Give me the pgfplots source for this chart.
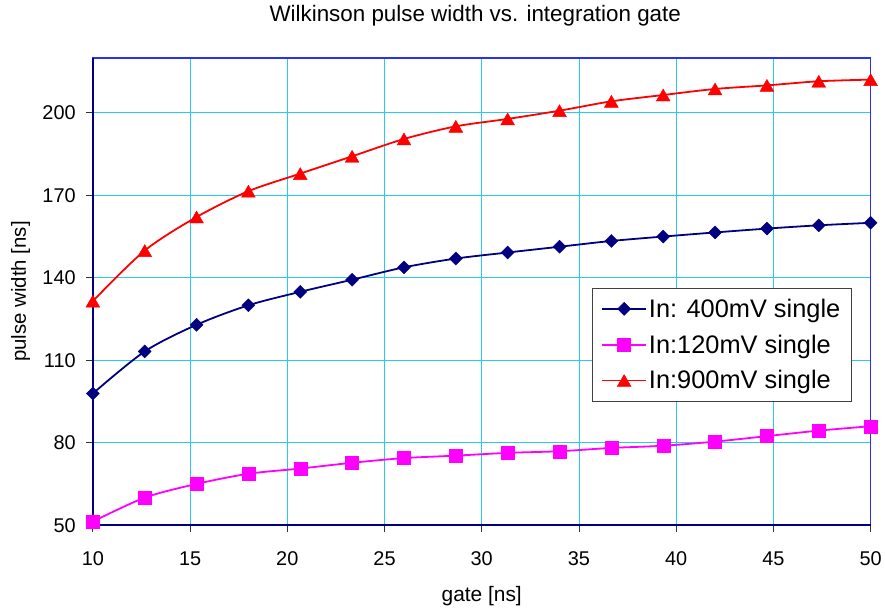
\documentclass[border=0pt]{standalone}
\usepackage{fontspec}
\setmainfont{Liberation Sans}
\usepackage{pgfplots}
\pgfplotsset{compat=1.18}

\definecolor{navyline}{RGB}{0,0,128}
\definecolor{magline}{RGB}{255,0,255}
\definecolor{redline}{RGB}{255,0,0}
\definecolor{gridcyan}{RGB}{40,200,250}
\definecolor{plotborder}{RGB}{40,50,240}

\begin{document}
\begin{tikzpicture}
\begin{axis}[
  scale only axis, width=779bp, height=468bp,
  xmin=10, xmax=50, ymin=50, ymax=220,
  xtick={10,15,...,50}, ytick={50,80,...,200},
  grid=major, major grid style={gridcyan, line width=0.8bp},
  axis line style={plotborder, line width=1.2bp},
  tick align=outside, tick pos=left,
  major tick length=7bp, tick style={black!80, line width=0.8bp},
  /pgf/number format/assume math mode=true,
  ticklabel style={font=\fontsize{20}{24}\selectfont},
  xticklabel style={anchor=base, yshift=-33bp},
  yticklabel style={anchor=east, inner sep=0pt, xshift=-10bp},
  title={Wilkinson pulse width vs. integration gate},
  title style={font=\fontsize{22.5}{27}\selectfont, at={(0.5,1)}, anchor=base, yshift=30bp, xshift=-6.5bp},
  xlabel={gate [ns]}, ylabel={pulse width [ns]},
  xlabel style={font=\fontsize{21}{25}\selectfont, at={(0.5,0)}, anchor=base, yshift=-76bp},
  ylabel style={font=\fontsize{20.5}{25}\selectfont, at={(0,0.5)}, anchor=base, yshift=67bp},
  clip=false,
  legend style={at={(0.9756,0.5085)}, anchor=north east, draw=black!75, line width=0.8bp,
    fill=white, font=\fontsize{25.5}{30}\selectfont, inner xsep=9bp, inner ysep=9bp,
    row sep=12bp, cells={anchor=west}},
  legend cell align=left,
  legend image code/.code={\draw[mark repeat=2,mark phase=2] plot coordinates {(0bp,0bp)(22bp,0bp)(44bp,0bp)};},
]
% value axes drawn in navy on the left and bottom
\draw[navyline, line width=1.6bp] (rel axis cs:0,1) -- (rel axis cs:0,0) -- (rel axis cs:1,0);

\addplot[navyline, line width=1.8bp, smooth, mark=square*, mark size=4.6bp,
  mark options={rotate=45, line width=0.4bp}] coordinates {
  (10,97.9) (12.667,113.2) (15.333,122.9) (18,130) (20.667,134.9) (23.333,139.3)
  (26,143.8) (28.667,147) (31.333,149.2) (34,151.3) (36.667,153.4) (39.333,155)
  (42,156.5) (44.667,157.9) (47.333,159.1) (50,160)};
\addlegendentry{In: 400mV single}

\addplot[magline, line width=1.8bp, smooth, mark=square*, mark size=6.5bp,
  mark options={line width=0.4bp}] coordinates {
  (10,51.3) (12.667,60) (15.333,65) (18,68.7) (20.667,70.6) (23.333,72.7)
  (26,74.4) (28.667,75.3) (31.333,76.3) (34,76.9) (36.667,78.1) (39.333,78.9)
  (42,80.4) (44.667,82.4) (47.333,84.4) (50,86)};
\addlegendentry{In:120mV single}

\addplot[redline, line width=1.8bp, smooth, mark=triangle*, mark size=8bp,
  mark options={yshift=-2bp, line width=0.4bp}] coordinates {
  (10,131.5) (12.667,149.9) (15.333,162.1) (18,171.5) (20.667,177.9) (23.333,184.2)
  (26,190.5) (28.667,195.1) (31.333,197.8) (34,200.8) (36.667,204.2) (39.333,206.5)
  (42,208.7) (44.667,210) (47.333,211.5) (50,212.1)};
\addlegendentry{In:900mV single}
\end{axis}
\path (-93bp,-87bp) rectangle (792bp,526bp);
\end{tikzpicture}
\end{document}
